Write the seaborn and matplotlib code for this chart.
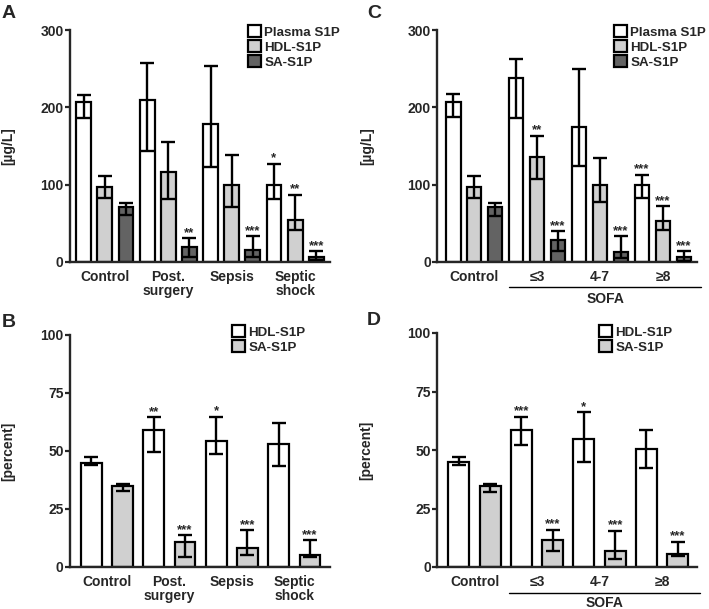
import numpy as np
import pandas as pd
import matplotlib
matplotlib.use("Agg")
import matplotlib.pyplot as plt
import seaborn as sns
from matplotlib.patches import Patch

# ---- data ----
groups_ab = ["Control", "Post.\nsurgery", "Sepsis", "Septic\nshock"]
groups_cd = ["Control", "\u22643", "4-7", "\u22658"]

# panel A: S1P concentration [ug/L]
a_plasma = [207, 209, 179, 99]
a_plasma_lo = [186, 143, 123, 81]
a_plasma_hi = [216, 257, 253, 127]
a_hdl = [97, 116, 100, 54]
a_hdl_lo = [83, 82, 71, 42]
a_hdl_hi = [111, 155, 138, 87]
a_sa = [71, 19, 15, 6]
a_sa_lo = [61, 7, 6, 2]
a_sa_hi = [76, 31, 33, 14]
a_stars = [["", "", "", "*"], ["", "", "", "**"], ["", "**", "***", "***"]]

# panel C: by SOFA score
c_plasma = [207, 238, 174, 99]
c_plasma_lo = [187, 186, 124, 83]
c_plasma_hi = [217, 263, 250, 113]
c_hdl = [97, 136, 99, 53]
c_hdl_lo = [83, 107, 78, 41]
c_hdl_hi = [111, 163, 134, 72]
c_sa = [71, 29, 13, 6]
c_sa_lo = [60, 14, 5, 1]
c_sa_hi = [76, 40, 33, 14]
c_stars = [["", "", "", "***"], ["", "**", "", "***"], ["", "***", "***", "***"]]

# panel B: percent of plasma S1P
b_hdl = [45, 59, 54.5, 53]
b_hdl_lo = [44, 49.5, 48.5, 43.5]
b_hdl_hi = [47.5, 64.5, 64.8, 62.2]
b_sa = [34.8, 10.8, 8.3, 5]
b_sa_lo = [32.7, 4.5, 5, 4.4]
b_sa_hi = [35.8, 13.7, 15.8, 11.6]
b_stars = [["", "**", "*", ""], ["", "***", "***", "***"]]

# panel D: percent, by SOFA score
d_hdl = [45, 58.5, 54.5, 50.5]
d_hdl_lo = [43.8, 52.3, 44.8, 42.4]
d_hdl_hi = [47.2, 64.2, 66.2, 58.5]
d_sa = [34.5, 11.5, 6.8, 5.7]
d_sa_lo = [32.2, 7, 3.5, 4.7]
d_sa_hi = [35.6, 16, 15.4, 10.8]
d_stars = [["", "***", "*", ""], ["", "***", "***", "***"]]

series3 = ["Plasma S1P", "HDL-S1P", "SA-S1P"]
series2 = ["HDL-S1P", "SA-S1P"]
colors3 = ["white", "#d0d0d0", "#636363"]
colors2 = ["white", "#d0d0d0"]

sns.set_style("ticks")
plt.rcParams["font.family"] = ["Liberation Sans", "DejaVu Sans"]
plt.rcParams["font.weight"] = "bold"

fig = plt.figure(figsize=(7.09, 6.09), dpi=100)
W, H = 709, 609
FS = 10


def ax_at(left, top, width, height):
    return fig.add_axes([left / W, 1 - (top + height) / H, width / W, height / H])


def draw_panel(ax, groups, series, colors, vals, los, his, stars, ylim, yticks,
               ylabel, xlim, ylab_x, gap):
    rows = []
    for s, v in zip(series, vals):
        for g, y in zip(groups, v):
            rows.append({"group": g, "series": s, "value": y})
    df = pd.DataFrame(rows)
    sns.barplot(data=df, x="group", y="value", hue="series", order=groups,
                hue_order=series, palette=colors, errorbar=None, width=1.0,
                gap=gap, edgecolor="black", linewidth=1.6, saturation=1,
                legend=False, ax=ax)
    bar_sets = list(ax.containers)
    for j, cont in enumerate(bar_sets):
        xs = [p.get_x() + p.get_width() / 2 for p in cont.patches]
        v = np.array(vals[j], float)
        yerr = [v - np.array(los[j]), np.array(his[j]) - v]
        ax.errorbar(xs, v, yerr=yerr, fmt="none", ecolor="black", elinewidth=1.7,
                    capsize=4.8, capthick=1.7, zorder=5)
        for x, hi, st in zip(xs, his[j], stars[j]):
            if st:
                ax.annotate(st, (x, hi), xytext=(0, -0.5), textcoords="offset points",
                            ha="center", va="bottom", fontsize=9.5, fontweight="bold")
    ax.set_ylim(*ylim)
    ax.set_xlim(*xlim)
    ax.set_yticks(yticks)
    ax.set_xlabel("")
    ax.set_ylabel(ylabel, fontsize=FS, fontweight="bold")
    ax.yaxis.set_label_coords(ylab_x, 0.5)
    sns.despine(ax=ax)
    for sp in ["left", "bottom"]:
        ax.spines[sp].set_linewidth(1.7)
    ax.tick_params(axis="y", length=3.5, width=1.6, labelsize=FS, pad=1)
    ax.tick_params(axis="x", length=0, labelsize=FS, pad=5.5)
    for lab in ax.get_xticklabels() + ax.get_yticklabels():
        lab.set_fontweight("bold")
        lab.set_linespacing(1.05)


def add_legend(ax, series, colors, x, y):
    handles = [Patch(facecolor=c, edgecolor="black", linewidth=1.6) for c in colors]
    ax.legend(handles, series, loc="upper left", bbox_to_anchor=(x / W, 1 - y / H),
              bbox_transform=fig.transFigure, frameon=False,
              handlelength=1.0, handleheight=1.0, handletextpad=0.22,
              labelspacing=0.12, borderpad=0, borderaxespad=0,
              prop={"weight": "bold", "size": 9.6})


def add_sofa(ax, y_line, y_text):
    ax.plot([0.55, 3.6], [y_line, y_line], color="black", lw=1.0,
            transform=ax.get_xaxis_transform(), clip_on=False)
    ax.text(2.08, y_text, "SOFA", transform=ax.get_xaxis_transform(),
            ha="center", va="baseline", fontsize=FS, fontweight="bold")


# A
axA = ax_at(70, 30, 260, 232)
draw_panel(axA, groups_ab, series3, colors3, [a_plasma, a_hdl, a_sa],
           [a_plasma_lo, a_hdl_lo, a_sa_lo], [a_plasma_hi, a_hdl_hi, a_sa_hi],
           a_stars, (0, 300), [0, 100, 200, 300], "[\u00b5g/L]", (-0.55, 3.55),
           -0.21, 0.3)
add_legend(axA, series3, colors3, 248, 25)

# C
axC = ax_at(437, 30, 260, 232)
draw_panel(axC, groups_cd, series3, colors3, [c_plasma, c_hdl, c_sa],
           [c_plasma_lo, c_hdl_lo, c_sa_lo], [c_plasma_hi, c_hdl_hi, c_sa_hi],
           c_stars, (0, 300), [0, 100, 200, 300], "[\u00b5g/L]", (-0.59, 3.54),
           -0.24, 0.3)
add_legend(axC, series3, colors3, 614, 25)
add_sofa(axC, -0.106, -0.175)

# B
axB = ax_at(70, 335, 260, 232)
draw_panel(axB, groups_ab, series2, colors2, [b_hdl, b_sa], [b_hdl_lo, b_sa_lo],
           [b_hdl_hi, b_sa_hi], b_stars, (0, 100), [0, 25, 50, 75, 100],
           "[percent]", (-0.59, 3.57), -0.21, 0.33)
add_legend(axB, series2, colors2, 232, 325)

# D
axD = ax_at(437, 333, 260, 234)
draw_panel(axD, groups_cd, series2, colors2, [d_hdl, d_sa], [d_hdl_lo, d_sa_lo],
           [d_hdl_hi, d_sa_hi], d_stars, (0, 100), [0, 25, 50, 75, 100],
           "[percent]", (-0.6, 3.56), -0.245, 0.33)
add_legend(axD, series2, colors2, 599, 325)
add_sofa(axD, -0.111, -0.172)

for lbl, x, y in [("A", 2, 18), ("B", 2, 327), ("C", 367, 18), ("D", 367, 325)]:
    fig.text(x / W, 1 - y / H, lbl, fontsize=14, fontweight="bold",
             ha="left", va="baseline")

fig.savefig("out.png", dpi=100)
